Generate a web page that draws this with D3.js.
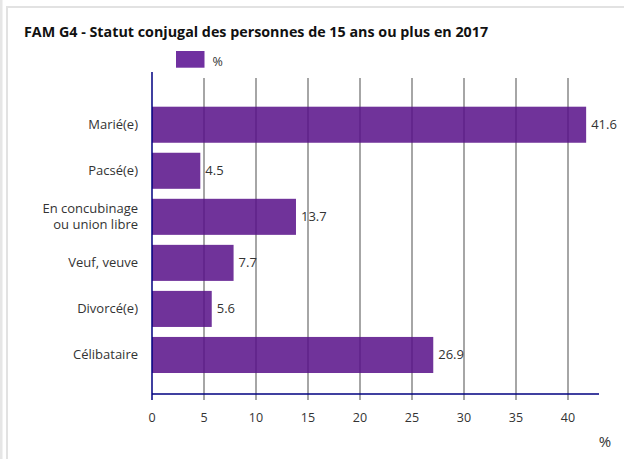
<!DOCTYPE html>
<html>
<head>
<meta charset="utf-8">
<script src="https://cdn.jsdelivr.net/npm/d3@7"></script>
<style>
  html, body { margin: 0; padding: 0; background: #fff; }
  svg { display: block; font-family: "Open Sans", sans-serif; }
</style>
</head>
<body>
<svg id="chart" width="624" height="459"></svg>
<script>
const categories = ["Marié(e)", "Pacsé(e)", "En concubinage\nou union libre", "Veuf, veuve", "Divorcé(e)", "Célibataire"];
const values = [41.6, 4.5, 13.7, 7.7, 5.6, 26.9];
const xTicks = [0, 5, 10, 15, 20, 25, 30, 35, 40];
const title = "FAM G4 - Statut conjugal des personnes de 15 ans ou plus en 2017";
const seriesName = "%";

const svg = d3.select("#chart");

// cadre gris autour du bloc
svg.append("rect").attr("x", 0).attr("y", 0).attr("width", 2.5).attr("height", 459).attr("fill", "#e6e6e6");
svg.append("rect")
  .attr("x", 7).attr("y", 7).attr("width", 640).attr("height", 470)
  .attr("fill", "none").attr("stroke", "#e2e2e2").attr("stroke-width", 2);

svg.append("text")
  .attr("x", 24).attr("y", 37.3)
  .attr("font-size", 14.3).attr("font-weight", "bold").attr("fill", "#111")
  .text(title);

// légende
svg.append("rect").attr("x", 176).attr("y", 51).attr("width", 28.5).attr("height", 16.7).attr("fill", "#7030a0");
svg.append("text").attr("x", 212.5).attr("y", 65.5).attr("font-size", 12.5).attr("fill", "#333").text(seriesName);

const x = d3.scaleLinear().domain([0, 40]).range([152, 568]);
const y = d3.scaleBand().domain(categories).range([101.7, 378]).paddingInner(0.217).paddingOuter(0.1085);

const axisY = 394;

// grille derrière les barres (barres légèrement transparentes)
svg.append("g")
  .selectAll("line")
  .data(xTicks.slice(1))
  .join("line")
  .attr("x1", d => x(d)).attr("x2", d => x(d))
  .attr("y1", 78).attr("y2", 400)
  .attr("stroke", "#808080").attr("stroke-width", 1.4);

svg.append("g")
  .selectAll("rect")
  .data(values)
  .join("rect")
  .attr("x", x(0))
  .attr("y", (d, i) => y(categories[i]))
  .attr("width", d => x(d) - x(0) + 1.5)
  .attr("height", y.bandwidth())
  .attr("fill", "rgb(87,15,136)")
  .attr("fill-opacity", 0.85);

svg.append("g")
  .selectAll("text")
  .data(values)
  .join("text")
  .attr("x", d => x(d) + 6.5)
  .attr("y", (d, i) => y(categories[i]) + y.bandwidth() / 2 + 4.5)
  .attr("font-size", 13).attr("fill", "#333")
  .text(d => d.toFixed(1));

// étiquettes des catégories
const catG = svg.append("g");
categories.forEach(c => {
  const lines = c.split("\n");
  const cy = y(c) + y.bandwidth() / 2;
  const t = catG.append("text")
    .attr("text-anchor", "end")
    .attr("font-size", 13).attr("fill", "#333");
  lines.forEach((l, j) => {
    t.append("tspan")
      .attr("x", 138)
      .attr("y", cy + 4.5 + (j - (lines.length - 1) / 2) * 16)
      .text(l);
  });
});

// axes
svg.append("line")
  .attr("x1", x(0)).attr("x2", 599).attr("y1", axisY).attr("y2", axisY)
  .attr("stroke", "#000080").attr("stroke-width", 1.5);
svg.append("line")
  .attr("x1", x(0)).attr("x2", x(0)).attr("y1", 72).attr("y2", 400)
  .attr("stroke", "#000080").attr("stroke-width", 1.5);

svg.append("g")
  .selectAll("text")
  .data(xTicks)
  .join("text")
  .attr("x", d => x(d))
  .attr("y", 421.5)
  .attr("text-anchor", "middle")
  .attr("font-size", 12.5).attr("fill", "#333")
  .text(d => d);

svg.append("text")
  .attr("x", 605).attr("y", 447)
  .attr("text-anchor", "middle")
  .attr("font-size", 15).attr("fill", "#333")
  .text("%");
</script>
</body>
</html>
